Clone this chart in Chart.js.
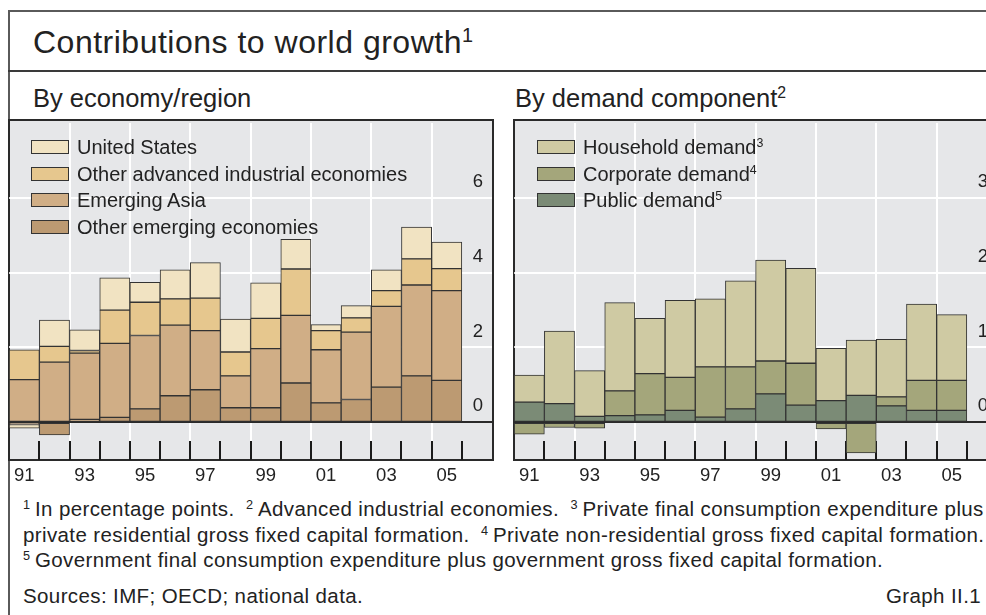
<!DOCTYPE html>
<html>
<head>
<meta charset="utf-8">
<script src="https://cdn.jsdelivr.net/npm/chart.js@4.4.1/dist/chart.umd.min.js"></script>
<style>
html,body{margin:0;padding:0;width:986px;height:615px;overflow:hidden;background:#fff;}
body{position:relative;font-family:"Liberation Sans",Arial,Helvetica,sans-serif;color:#222;}
.line{position:absolute;background:#555;}
.txt{position:absolute;white-space:nowrap;line-height:1;}
sup{font-size:0.62em;vertical-align:0.55em;line-height:0;}
.plotbox{position:absolute;box-sizing:border-box;border:2px solid #2a2a2a;background:#e6e7e9;}
canvas{position:absolute;}
.legend{position:absolute;}
.legrow{display:flex;align-items:center;height:14px;margin-bottom:12.6px;}
.legbox{box-sizing:border-box;width:38px;height:14px;border:1.5px solid #333;flex:none;}
.legtxt{font-size:20px;line-height:1;margin-left:8px;white-space:nowrap;}
.fn{font-size:20.5px;letter-spacing:0.385px;}
.gap{display:inline-block;width:11.5px;}
.th{display:inline-block;width:4.5px;}
</style>
</head>
<body>
<div class="line" style="left:8px;top:10px;width:990px;height:2px;background:#5a5a5a"></div>
<div class="line" style="left:8px;top:10px;width:2px;height:610px;background:#5a5a5a"></div>
<div class="line" style="left:8px;top:70px;width:990px;height:2px;background:#3a3a3a"></div>

<div class="txt" id="title" style="left:33px;top:26.2px;font-size:32px;letter-spacing:0.5px">Contributions to world growth<sup>1</sup></div>
<div class="txt" style="left:33px;top:85.5px;font-size:25.5px">By economy/region</div>
<div class="txt" style="left:515px;top:85.5px;font-size:25.5px">By demand component<sup>2</sup></div>

<div class="plotbox" style="left:8px;top:119px;width:486px;height:342px"></div>
<div class="plotbox" style="left:513px;top:119px;width:500px;height:342px"></div>

<canvas id="cL" width="483" height="370" style="left:9px;top:121px;width:483px;height:370px"></canvas>
<canvas id="cR" width="483" height="370" style="left:514px;top:121px;width:483px;height:370px"></canvas>

<div class="legend" id="legL" style="left:31px;top:140px"></div>
<div class="legend" id="legR" style="left:537px;top:140px"></div>

<div class="txt fn" style="left:23px;top:498.6px"><sup>1</sup><span class="th"></span>In percentage points.<span class="gap"></span><sup>2</sup><span class="th"></span>Advanced industrial economies.<span class="gap"></span><sup>3</sup><span class="th"></span>Private final consumption expenditure plus</div>
<div class="txt fn" style="left:23px;top:524.6px">private residential gross fixed capital formation.<span class="gap"></span><sup>4</sup><span class="th"></span>Private non-residential gross fixed capital formation.</div>
<div class="txt fn" style="left:23px;top:549.6px"><sup>5</sup><span class="th"></span>Government final consumption expenditure plus government gross fixed capital formation.</div>
<div class="txt fn" style="left:23px;top:585.6px">Sources: IMF; OECD; national data.</div>
<div class="txt fn" style="right:5px;top:585.6px">Graph II.1</div>

<script>
// ---- data ----
const years = ['1991','1992','1993','1994','1995','1996','1997','1998','1999','2000','2001','2002','2003','2004','2005','2006'];
const tickLabels = ['91','','93','','95','','97','','99','','01','','03','','05',''];

// By economy/region (percentage points)
const otherEmerging = [-0.06,-0.34,0.08,0.13,0.36,0.71,0.87,0.39,0.39,1.05,0.52,0.61,0.94,1.24,1.12];
const emergingAsia  = [1.14,1.61,1.77,1.98,1.96,1.89,1.58,0.85,1.58,1.81,1.42,1.80,2.16,2.43,2.40];
const otherAdvanced = [0.80,0.42,0.07,0.89,0.89,0.70,0.87,0.64,0.81,1.24,0.51,0.38,0.42,0.70,0.59];
const unitedStates  = [-0.10,0.70,0.55,0.86,0.53,0.78,0.95,0.88,0.95,0.79,0.16,0.33,0.56,0.85,0.71];

// By demand component (percentage points)
const publicDemand    = [0.27,0.25,0.08,0.09,0.10,0.16,0.07,0.18,0.38,0.23,0.29,0.36,0.22,0.16,0.16];
const corporateDemand = [-0.16,-0.07,-0.08,0.33,0.55,0.44,0.67,0.56,0.44,0.56,-0.09,-0.41,0.12,0.40,0.40];
const householdDemand = [0.36,0.97,0.61,1.18,0.74,1.03,0.91,1.15,1.35,1.27,0.70,0.74,0.77,1.02,0.88];

const leftYTicks = [0,2,4,6];
const rightYTicks = [0,1,2,3];

// ---- styling ----
Chart.defaults.font.family = "'Liberation Sans', Arial, Helvetica, sans-serif";
Chart.defaults.color = '#222';

function ds(label, data, color, note) {
  return {label, data, backgroundColor: color, borderColor: '#333', borderWidth: 1,
          borderSkipped: false, clip: false, note};
}

function makeChart(id, datasets, yMin, yMax, yTicks) {
  return new Chart(document.getElementById(id), {
    type: 'bar',
    data: {labels: years, datasets},
    options: {
      responsive: false, animation: false, devicePixelRatio: 1,
      layout: {padding: 0, autoPadding: false},
      datasets: {bar: {categoryPercentage: 1, barPercentage: 1}},
      plugins: {legend: {display: false}, tooltip: {enabled: false}},
      scales: {
        x: {
          stacked: true, offset: true,
          border: {display: false},
          grid: {
            offset: true, drawOnChartArea: true, drawTicks: true, tickLength: 19,
            lineWidth: 2, tickWidth: 2,
            color: (c) => (c.index !== undefined && c.index >= 2 && c.index <= 14 && c.index % 2 === 0) ? '#ffffff' : 'rgba(0,0,0,0)',
            tickColor: (c) => (c.index !== undefined && c.index >= 1 && c.index <= 15) ? '#1a1a1a' : 'rgba(0,0,0,0)'
          },
          ticks: {autoSkip: false, maxRotation: 0, minRotation: 0, padding: 5,
                  font: {size: 18.5}, color: '#222',
                  callback: (v, i) => tickLabels[i]},
          afterFit: (s) => { s.height = 50; }
        },
        y: {
          stacked: true, position: 'right', min: yMin, max: yMax,
          border: {display: false},
          afterBuildTicks: (s) => { s.ticks = yTicks.map(v => ({value: v})); },
          grid: {drawTicks: false, lineWidth: 2,
                 color: (c) => c.tick && c.tick.value === 0 ? '#2a2a2a' : '#ffffff'},
          ticks: {mirror: true, padding: -9, labelOffset: -16, font: {size: 18.5}, color: '#222',
                  callback: (v) => String(v)},
          afterFit: (s) => { s.width = 0; }
        }
      }
    }
  });
}

const chartL = makeChart('cL', [
  ds('Other emerging economies', otherEmerging, '#bc9a72', ''),
  ds('Emerging Asia', emergingAsia, '#d0ae86', ''),
  ds('Other advanced industrial economies', otherAdvanced, '#e6c78e', ''),
  ds('United States', unitedStates, '#f1e3c2', '')
], -0.5, 8, leftYTicks);

const chartR = makeChart('cR', [
  ds('Public demand', publicDemand, '#7b8b76', '5'),
  ds('Corporate demand', corporateDemand, '#a4a67b', '4'),
  ds('Household demand', householdDemand, '#cfcaa3', '3')
], -0.25, 4, rightYTicks);

function buildLegend(chart, elId) {
  const items = Chart.defaults.plugins.legend.labels.generateLabels(chart).reverse();
  const el = document.getElementById(elId);
  items.forEach(it => {
    const d = chart.data.datasets[it.datasetIndex];
    const row = document.createElement('div');
    row.className = 'legrow';
    const box = document.createElement('div');
    box.className = 'legbox';
    box.style.background = it.fillStyle;
    const t = document.createElement('div');
    t.className = 'legtxt';
    t.textContent = it.text;
    if (d.note) { const s = document.createElement('sup'); s.textContent = d.note; t.appendChild(s); }
    row.appendChild(box); row.appendChild(t);
    el.appendChild(row);
  });
}
buildLegend(chartL, 'legL');
buildLegend(chartR, 'legR');
</script>
</body>
</html>
